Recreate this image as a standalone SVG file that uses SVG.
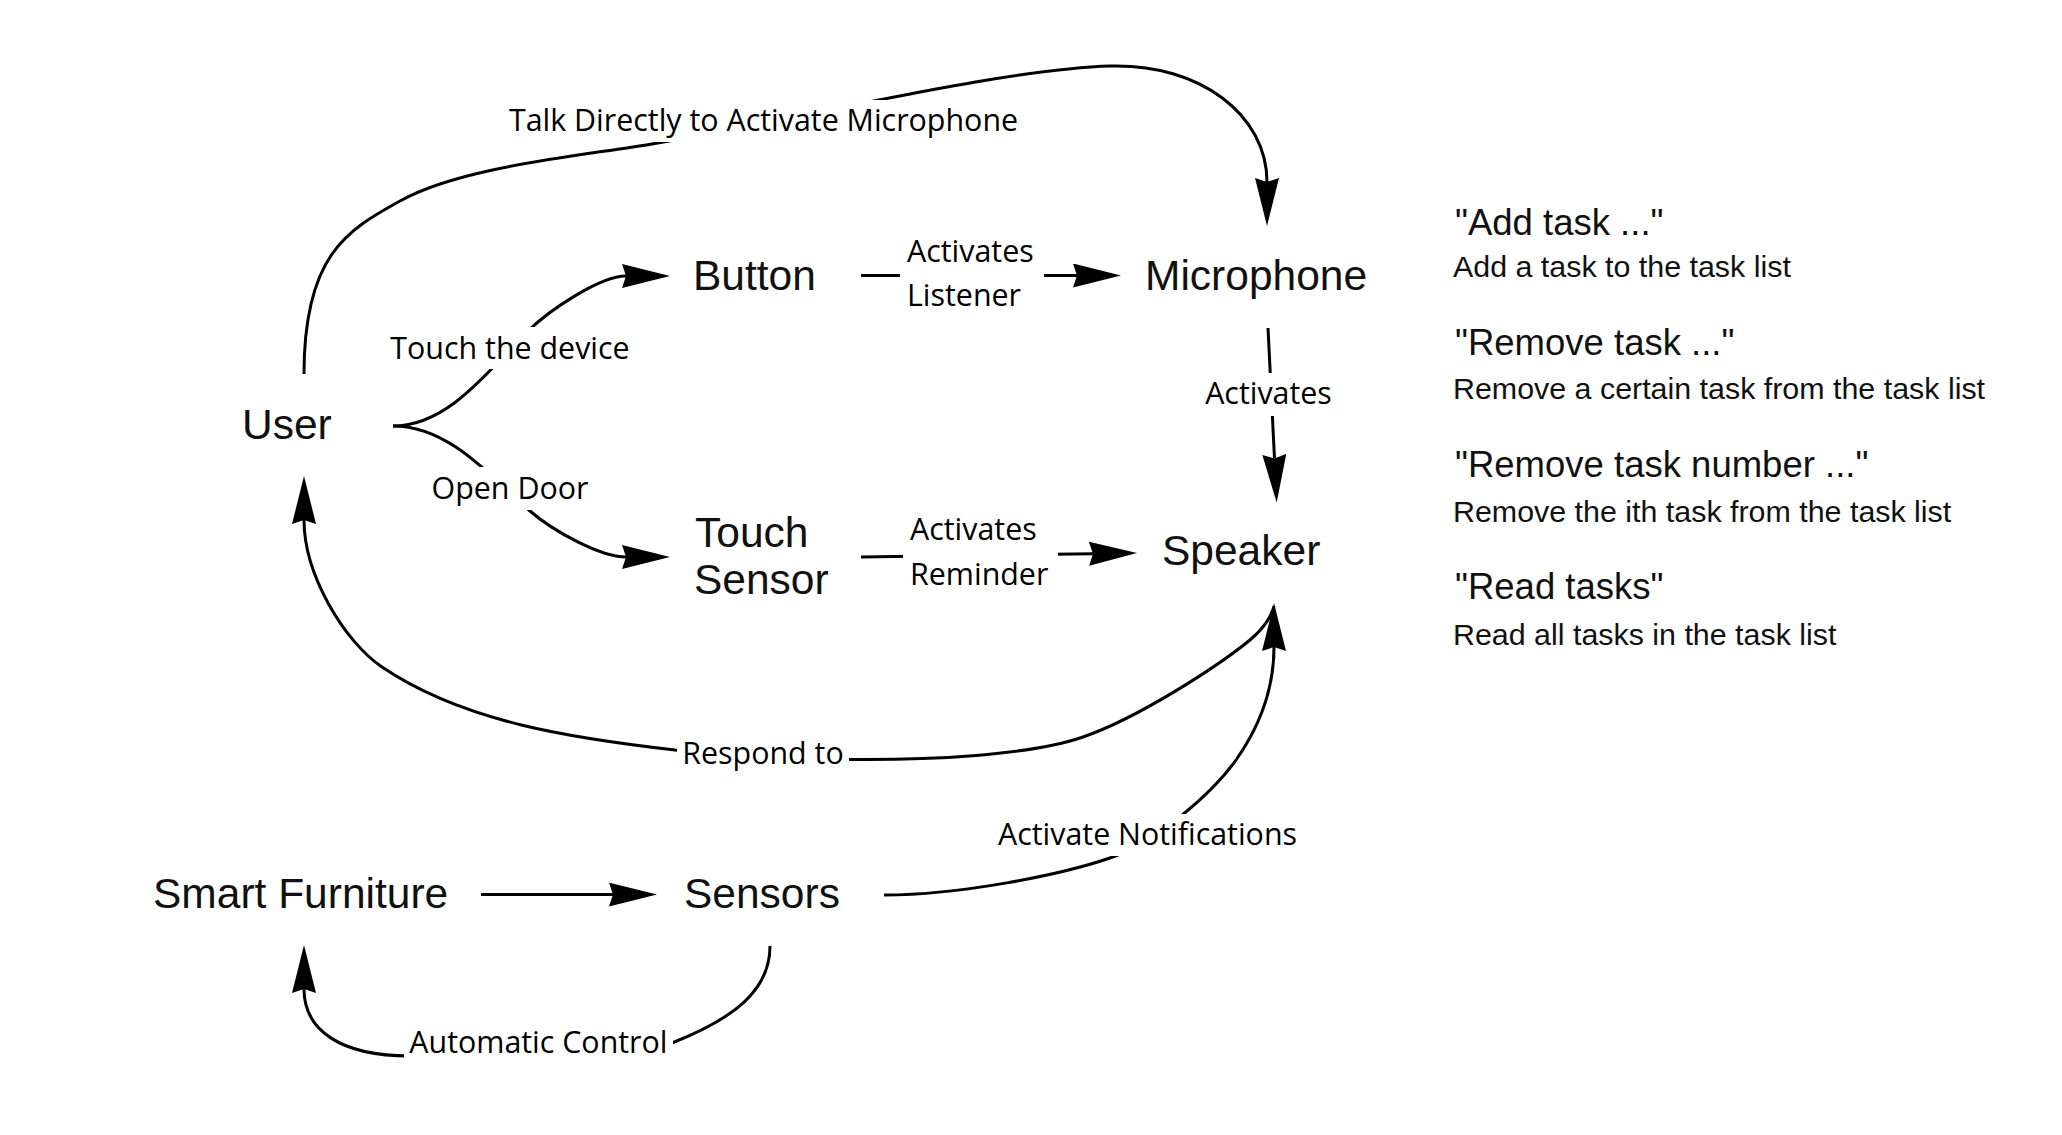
<svg xmlns="http://www.w3.org/2000/svg" width="2062" height="1135" viewBox="0 0 2062 1135">
<style>
.node{font-family:"Liberation Sans",Arial,sans-serif;font-size:42.5px;fill:#111}
.lbl{font-family:"Open Sans","Noto Sans",sans-serif;font-size:30.4px;fill:#000}
.hd{font-family:"Liberation Sans",Arial,sans-serif;font-size:36.5px;fill:#111}
.sub{font-family:"Liberation Sans",Arial,sans-serif;font-size:30.4px;fill:#111}
.edge{fill:none;stroke:#000;stroke-width:3;marker-end:url(#arr)}
.bg{fill:#fff}
</style>
<defs>
<marker id="arr" viewBox="0 0 48 24" refX="4" refY="12" markerWidth="48" markerHeight="24" markerUnits="userSpaceOnUse" orient="auto">
<path d="M48,12 L0,0 L4,12 L0,24 Z" fill="#000"/>
</marker>
</defs>
<rect width="2062" height="1135" fill="#fff"/>

<g id="connectors">
<path id="e-talk" class="edge" d="M 304 374 C 304 255, 347.4 230, 400 201 C 461 167, 573 157, 652 144 C 800 119, 1000 69, 1111 66 C 1200 63.6, 1267 115, 1267 182"/>
<path id="e-user-button" class="edge" d="M 393 426 C 450 426, 492 366, 528 331 C 549.6 310, 600 276, 626 276"/>
<path id="e-user-touch" class="edge" d="M 393 426 C 450 426, 492 478, 530 511 C 552.7 530.7, 600 557, 626 557"/>
<path id="e-button-mic" class="edge" d="M 861 275.5 L 1077 275.5"/>
<path id="e-touch-speaker" class="edge" d="M 861 557 L 1093 553.7"/>
<path id="e-mic-speaker" class="edge" d="M 1268 328 L 1274.5 458.5"/>
<path id="e-sf-sensors" class="edge" d="M 481 894.6 L 613 894.6"/>
<path id="e-sensors-sf" class="edge" d="M 770 946 C 770 990, 735 1018, 672 1043 L 410 1056 C 340 1056, 304 1030, 304 989"/>
<path id="e-sensors-speaker" class="edge" d="M 884 895 C 960 895, 1060 875, 1110 858 C 1157 842, 1212.8 792.6, 1236 760 C 1259 727.4, 1274 690, 1274 647"/>
<path id="e-speaker-user" class="edge" d="M 1274 606 C 1271 618, 1262 630, 1250 640 C 1219 665.3, 1139.7 717.4, 1083 737 C 1026 756.6, 923 760, 853 759.5 C 793 760, 735 755, 675 750 C 575.7 738.6, 464.8 723, 382 667 C 344.7 641.8, 304 575, 304 520"/>
</g>

<g id="edge-labels">
<g id="l-talk"><rect class="bg" x="503" y="100" width="521" height="42"/><text class="lbl" x="763.5" y="131" text-anchor="middle">Talk Directly to Activate Microphone</text></g>
<g id="l-touch-device"><rect class="bg" x="387" y="327" width="247" height="42"/><text class="lbl" x="510" y="358.6" text-anchor="middle">Touch the device</text></g>
<g id="l-open-door"><rect class="bg" x="427" y="467" width="166" height="43"/><text class="lbl" x="510" y="499" text-anchor="middle">Open Door</text></g>
<g id="l-listener"><rect class="bg" x="900" y="230" width="144" height="88"/><text class="lbl" x="907" y="262">Activates</text><text class="lbl" x="907" y="306">Listener</text></g>
<g id="l-reminder"><rect class="bg" x="903" y="508" width="155" height="89"/><text class="lbl" x="910" y="540">Activates</text><text class="lbl" x="910" y="585">Reminder</text></g>
<g id="l-activates"><rect class="bg" x="1202" y="373" width="133" height="43"/><text class="lbl" x="1268.5" y="404" text-anchor="middle">Activates</text></g>
<g id="l-respond"><rect class="bg" x="677" y="732" width="172" height="42"/><text class="lbl" x="763" y="763.6" text-anchor="middle">Respond to</text></g>
<g id="l-notif"><rect class="bg" x="993" y="814" width="309" height="42"/><text class="lbl" x="1147.5" y="845" text-anchor="middle">Activate Notifications</text></g>
<g id="l-auto"><rect class="bg" x="404" y="1021" width="269" height="43"/><text class="lbl" x="538.4" y="1053" text-anchor="middle">Automatic Control</text></g>
</g>

<g id="node-user"><text class="node" x="242" y="439">User</text></g>
<g id="node-button"><text class="node" x="693" y="290">Button</text></g>
<g id="node-microphone"><text class="node" x="1145" y="290">Microphone</text></g>
<g id="node-touch-sensor"><text class="node" x="695" y="547">Touch</text><text class="node" x="694" y="594">Sensor</text></g>
<g id="node-speaker"><text class="node" x="1162" y="565">Speaker</text></g>
<g id="node-smart-furniture"><text class="node" x="153" y="908">Smart Furniture</text></g>
<g id="node-sensors"><text class="node" x="684" y="907.6">Sensors</text></g>

<g id="commands">
<text class="hd" x="1455" y="234.5">"Add task ..."</text>
<text class="sub" x="1453" y="276.5">Add a task to the task list</text>
<text class="hd" x="1455" y="354.5">"Remove task ..."</text>
<text class="sub" x="1453" y="399">Remove a certain task from the task list</text>
<text class="hd" x="1455" y="477">"Remove task number ..."</text>
<text class="sub" x="1453" y="521.5">Remove the ith task from the task list</text>
<text class="hd" x="1455" y="598.5">"Read tasks"</text>
<text class="sub" x="1453" y="645">Read all tasks in the task list</text>
</g>
</svg>
